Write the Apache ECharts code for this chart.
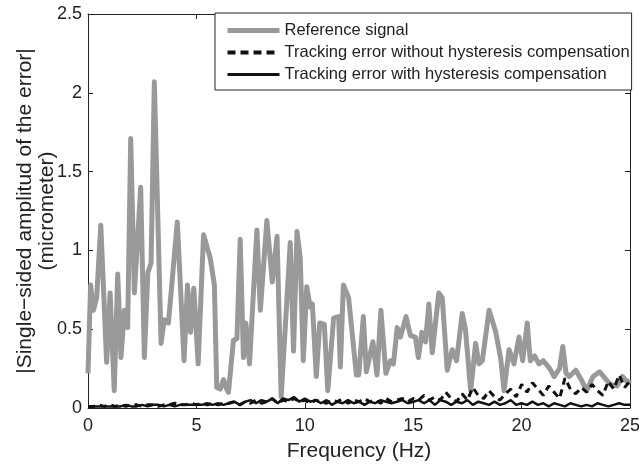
<!DOCTYPE html>
<html>
<head>
<meta charset="utf-8">
<script src="https://cdn.jsdelivr.net/npm/echarts@6/dist/echarts.min.js"></script>
<style>
html,body{margin:0;padding:0;background:#fff;}
#chart{width:639px;height:465px;}
</style>
</head>
<body>
<div id="chart"></div>
<script>
// Reference signal: frequency (Hz) and amplitude (micrometer) at visible vertices
const freqRef = [0.00,0.12,0.25,0.40,0.59,0.86,1.02,1.21,1.37,1.52,1.68,1.83,1.97,2.14,2.43,2.60,2.76,2.91,3.06,3.37,3.52,3.71,4.12,4.43,4.59,4.73,4.88,5.08,5.33,5.64,5.83,5.94,6.10,6.25,6.40,6.48,6.71,6.87,7.02,7.17,7.28,7.45,7.79,7.95,8.25,8.50,8.72,8.91,9.33,9.48,9.64,9.79,9.93,10.09,10.25,10.35,10.53,10.69,10.90,11.06,11.33,11.56,11.64,11.78,12.02,12.38,12.49,12.70,12.84,13.14,13.33,13.51,13.74,13.95,14.09,14.26,14.41,14.67,14.87,15.10,15.24,15.40,15.57,15.72,15.88,16.18,16.34,16.57,16.80,17.00,17.26,17.41,17.65,17.88,18.03,18.19,18.50,18.81,19.04,19.19,19.42,19.65,19.88,20.05,20.26,20.40,20.60,20.80,21.00,21.30,21.50,21.75,21.90,22.05,22.20,22.50,22.75,23.00,23.30,23.60,23.90,24.10,24.40,24.65,24.90,25.00];
const ampRef  = [0.22,0.78,0.62,0.70,1.16,0.29,0.73,0.11,0.85,0.32,0.62,0.51,1.71,0.73,1.40,0.32,0.86,0.92,2.07,0.41,0.56,0.54,1.18,0.30,0.78,0.48,0.76,0.28,1.10,0.95,0.78,0.13,0.12,0.18,0.12,0.10,0.43,0.44,1.07,0.32,0.54,0.28,1.13,0.62,1.19,0.80,1.09,0.07,1.05,0.36,1.12,0.95,0.30,0.77,0.64,0.66,0.20,0.54,0.53,0.11,0.57,0.58,0.26,0.78,0.70,0.21,0.21,0.58,0.23,0.42,0.21,0.62,0.22,0.30,0.28,0.51,0.45,0.58,0.46,0.45,0.32,0.48,0.42,0.66,0.35,0.73,0.70,0.24,0.37,0.30,0.60,0.50,0.11,0.41,0.28,0.30,0.62,0.48,0.31,0.11,0.37,0.28,0.45,0.30,0.54,0.30,0.33,0.28,0.30,0.25,0.20,0.25,0.39,0.22,0.20,0.24,0.18,0.11,0.20,0.23,0.18,0.15,0.14,0.20,0.16,0.18];

// Tracking errors sampled every 0.25 Hz from 0 to 25 Hz
const errStep = 0.25;
const errNoComp = [
 0.01,0.01,0.02,0.01,0.02,0.01,0.02,0.01,0.02,0.02,0.01,0.02,0.02,0.01,0.02,0.02,0.03,0.02,0.02,0.03,
 0.02,0.03,0.02,0.03,0.02,0.03,0.03,0.04,0.02,0.04,0.03,0.05,0.03,0.04,0.06,0.03,0.05,0.04,0.06,0.04,
 0.05,0.03,0.05,0.04,0.03,0.05,0.04,0.06,0.03,0.05,0.04,0.06,0.04,0.05,0.03,0.06,0.04,0.05,0.06,0.04,
 0.06,0.05,0.08,0.05,0.07,0.05,0.10,0.06,0.04,0.09,0.05,0.13,0.08,0.06,0.11,0.07,0.05,0.09,0.12,0.07,
 0.15,0.10,0.16,0.12,0.08,0.14,0.10,0.06,0.19,0.12,0.09,0.13,0.10,0.15,0.11,0.08,0.17,0.12,0.21,0.13,0.17];
const errComp = [
 0.01,0.01,0.01,0.01,0.01,0.01,0.01,0.02,0.01,0.01,0.02,0.01,0.02,0.02,0.01,0.02,0.01,0.02,0.02,0.02,
 0.02,0.02,0.03,0.02,0.03,0.02,0.03,0.04,0.02,0.04,0.05,0.03,0.05,0.04,0.06,0.03,0.06,0.05,0.07,0.04,
 0.06,0.04,0.05,0.03,0.05,0.02,0.04,0.03,0.05,0.03,0.04,0.02,0.04,0.03,0.05,0.04,0.03,0.04,0.05,0.03,
 0.04,0.05,0.03,0.05,0.02,0.05,0.04,0.02,0.04,0.03,0.05,0.02,0.04,0.03,0.02,0.04,0.02,0.03,0.05,0.02,
 0.03,0.02,0.04,0.02,0.03,0.01,0.03,0.02,0.01,0.03,0.02,0.01,0.02,0.01,0.03,0.02,0.01,0.02,0.03,0.02,0.02];

const seriesNames = ['Reference signal','Tracking error without hysteresis compensation','Tracking error with hysteresis compensation'];
const xTicks = [0,5,10,15,20,25];
const yTicks = [0,0.5,1,1.5,2,2.5];

const pairs = (xs, ys) => ys.map((v, i) => [xs[i], v]);
const freqErr = errNoComp.map((_, i) => i * errStep);

const FONT = '"Liberation Sans", Arial, sans-serif';
const chart = echarts.init(document.getElementById('chart'), null, {renderer: 'canvas'});

const axisCommon = {
  axisLine: {show: true, onZero: false, lineStyle: {color: '#222', width: 1}},
  axisTick: {show: true, inside: true, length: 5, lineStyle: {color: '#222'}},
  splitLine: {show: false}
};

chart.setOption({
  animation: false,
  backgroundColor: '#fff',
  grid: {left: 88, right: 9, top: 14, bottom: 57, containLabel: false, outerBoundsMode: 'none'},
  legend: {
    orient: 'vertical', left: 215, top: 13,
    padding: [9, 2, 7, 10], itemGap: 5, itemWidth: 52, itemHeight: 18,
    backgroundColor: '#fff', borderColor: '#222', borderWidth: 1, borderRadius: 0,
    itemStyle: {opacity: 0},
    textStyle: {fontFamily: FONT, fontSize: 16.5, color: '#222'},
    data: [
      {name: seriesNames[0], lineStyle: {width: 5, color: '#999999'}},
      {name: seriesNames[1], lineStyle: {width: 4, color: '#111', type: [8, 5]}},
      {name: seriesNames[2], lineStyle: {width: 3, color: '#111'}}
    ]
  },
  xAxis: [
    Object.assign({type: 'value', min: 0, max: 25, interval: 5, position: 'bottom',
      name: 'Frequency (Hz)', nameLocation: 'middle', nameGap: 33, nameMoveOverlap: false,
      nameTextStyle: {fontFamily: FONT, fontSize: 21, color: '#222'},
      axisLabel: {fontFamily: FONT, fontSize: 18, color: '#222', margin: 9}}, axisCommon),
    Object.assign({type: 'value', min: 0, max: 25, interval: 5, position: 'top',
      axisLabel: {show: false}}, axisCommon)
  ],
  yAxis: [
    Object.assign({type: 'value', min: 0, max: 2.5, interval: 0.5, position: 'left',
      name: '|Single\u2212sided amplitud of the error|\n(micrometer)', nameLocation: 'middle', nameGap: 30, nameRotate: 90,
      nameMoveOverlap: false,
      nameTextStyle: {fontFamily: FONT, fontSize: 21, color: '#222', lineHeight: 22, align: 'center'},
      axisLabel: {fontFamily: FONT, fontSize: 18, color: '#222', margin: 6}}, axisCommon),
    Object.assign({type: 'value', min: 0, max: 2.5, interval: 0.5, position: 'right',
      axisLabel: {show: false}}, axisCommon)
  ],
  series: [
    {name: seriesNames[0], type: 'line', data: pairs(freqRef, ampRef), symbol: 'none',
      lineStyle: {color: '#999999', width: 5, join: 'round'}, itemStyle: {color: '#999999'}, z: 2},
    {name: seriesNames[1], type: 'line', data: pairs(freqErr, errNoComp), symbol: 'none',
      lineStyle: {color: '#111', width: 3, type: [7, 5]}, itemStyle: {color: '#111'}, z: 3},
    {name: seriesNames[2], type: 'line', data: pairs(freqErr, errComp), symbol: 'none',
      lineStyle: {color: '#111', width: 2.5}, itemStyle: {color: '#111'}, z: 4}
  ]
});
</script>
</body>
</html>
